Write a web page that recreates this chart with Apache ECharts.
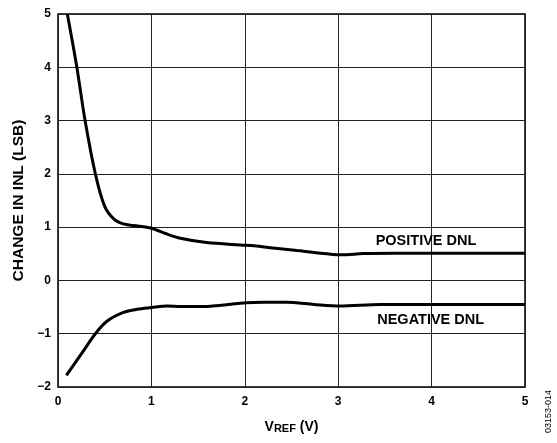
<!DOCTYPE html>
<html><head><meta charset="utf-8">
<script src="https://cdn.jsdelivr.net/npm/echarts@6/dist/echarts.min.js"></script>
<style>html,body{margin:0;padding:0;background:#fff}#c{width:557px;height:443px}</style>
</head><body><div id="c"></div>
<script>
var xTicks = [0, 1, 2, 3, 4, 5];
var yTicks = [-2, -1, 0, 1, 2, 3, 4, 5];
var positiveDNL = [[0.10,5.0],[0.20,4.02],[0.29,3.0],[0.40,2.0],[0.50,1.39],[0.60,1.15],[0.70,1.06],[0.81,1.03],[1.0,0.98],[1.15,0.88],[1.31,0.79],[1.59,0.71],[1.95,0.665],[2.1,0.65],[2.3,0.61],[2.56,0.56],[2.88,0.50],[3.04,0.48],[3.27,0.505],[3.6,0.51],[4.0,0.51],[4.5,0.51],[5.0,0.51]];
var negativeDNL = [[0.09,-1.78],[0.25,-1.38],[0.40,-1.0],[0.52,-0.77],[0.70,-0.60],[0.85,-0.54],[1.0,-0.51],[1.17,-0.48],[1.31,-0.49],[1.56,-0.49],[1.95,-0.43],[2.2,-0.41],[2.45,-0.41],[2.74,-0.45],[3.02,-0.48],[3.45,-0.45],[4.0,-0.45],[4.5,-0.45],[5.0,-0.45]];
var seriesLabels = ['POSITIVE DNL', 'NEGATIVE DNL'];
var labelPos = [[3.94, 0.74], [3.99, -0.75]];

var chart = echarts.init(document.getElementById('c'));
var font = '"Liberation Sans", Arial, sans-serif';
chart.setOption({
  animation: false,
  backgroundColor: '#fff',
  grid: {left: 58, right: 32, top: 14, bottom: 56, show: true, borderColor: '#000', borderWidth: 1.5},
  xAxis: {
    type: 'value', min: 0, max: 5, interval: 1,
    axisLine: {show: false}, axisTick: {show: false},
    splitLine: {show: true, lineStyle: {color: '#222', width: 1}},
    axisLabel: {color: '#000', fontFamily: font, fontWeight: 'bold', fontSize: 12, margin: 9,
      formatter: function(v){ return xTicks.indexOf(v) >= 0 ? String(v) : ''; }},
    name: '{v|V}{s|REF}{v| (V)}', nameLocation: 'middle', nameGap: 27,
    nameTextStyle: {rich: {
      v: {fontFamily: font, fontWeight: 'bold', fontSize: 14, color: '#000', verticalAlign: 'bottom'},
      s: {fontFamily: font, fontWeight: 'bold', fontSize: 11, color: '#000', padding: [9, 0, 0, 0], verticalAlign: 'bottom'}
    }}
  },
  yAxis: {
    type: 'value', min: -2, max: 5, interval: 1,
    axisLine: {show: false}, axisTick: {show: false},
    splitLine: {show: true, lineStyle: {color: '#222', width: 1}},
    axisLabel: {color: '#000', fontFamily: font, fontWeight: 'bold', fontSize: 12, margin: 7,
      formatter: function(v){ return yTicks.indexOf(v) >= 0 ? (v < 0 ? '\u2212' + Math.abs(v) : String(v)) : ''; }},
    name: 'CHANGE IN INL (LSB)', nameLocation: 'middle', nameGap: 31,
    nameTextStyle: {fontFamily: font, fontWeight: 'bold', fontSize: 15.5, color: '#000'}
  },
  graphic: [{
    type: 'text', left: 544, top: 390, rotation: Math.PI / 2,
    style: {text: '03153-014', fontFamily: font, fontSize: 9, fill: '#000'},
    originX: 0, originY: 0
  }],
  series: [
    {type: 'line', data: positiveDNL, smooth: 0.3, showSymbol: false, lineStyle: {color: '#000', width: 3}},
    {type: 'line', data: negativeDNL, smooth: 0.3, showSymbol: false, lineStyle: {color: '#000', width: 3}},
    {type: 'scatter', symbolSize: 0, silent: true, itemStyle: {opacity: 1, color: '#000'},
     data: labelPos.map(function(p, i){ return {value: p, name: seriesLabels[i]}; }),
     label: {show: true, position: 'inside', formatter: '{b}', fontFamily: font, fontWeight: 'bold', fontSize: 14.5, color: '#000', opacity: 1, textBorderWidth: 0}}
  ]
});
</script></body></html>
